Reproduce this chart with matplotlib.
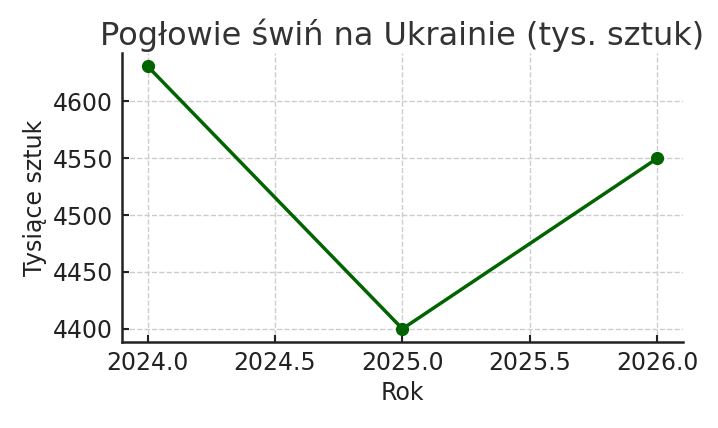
import matplotlib
matplotlib.use("Agg")
from matplotlib import pyplot as plt

years = [2024, 2025, 2026]
pigs = [4631, 4400, 4550]
xticks = [2024.0, 2024.5, 2025.0, 2025.5, 2026.0]
xtick_labels = ["2024.0", "2024.5", "2025.0", "2025.5", "2026.0"]

plt.rcParams["font.family"] = ["DejaVu Sans"]

fig, ax = plt.subplots(figsize=(7.18, 4.28), dpi=100)
ax.plot(years, pigs, color="darkgreen", linewidth=2.5, marker="o", markersize=8.5)
ax.set_title("Pogłowie świń na Ukrainie (tys. sztuk)", fontsize=23, color="#333333")
ax.set_xlabel("Rok", fontsize=17, color="#222222", labelpad=4)
ax.set_ylabel("Tysiące sztuk", fontsize=17, color="#222222", labelpad=4)
ax.tick_params(labelsize=17, width=1.5, length=5, direction="in", pad=6.5,
               colors="#222222")
ax.grid(True, linestyle="--", color="#cccccc", linewidth=1)
for s in ["top", "right"]:
    ax.spines[s].set_visible(False)
for s in ["left", "bottom"]:
    ax.spines[s].set_linewidth(1.8)
    ax.spines[s].set_color("#222222")
ax.set_xticks(xticks)
ax.set_xticklabels(xtick_labels)
fig.subplots_adjust(left=0.17, right=0.951, top=0.876, bottom=0.201)
fig.savefig("out.png")
